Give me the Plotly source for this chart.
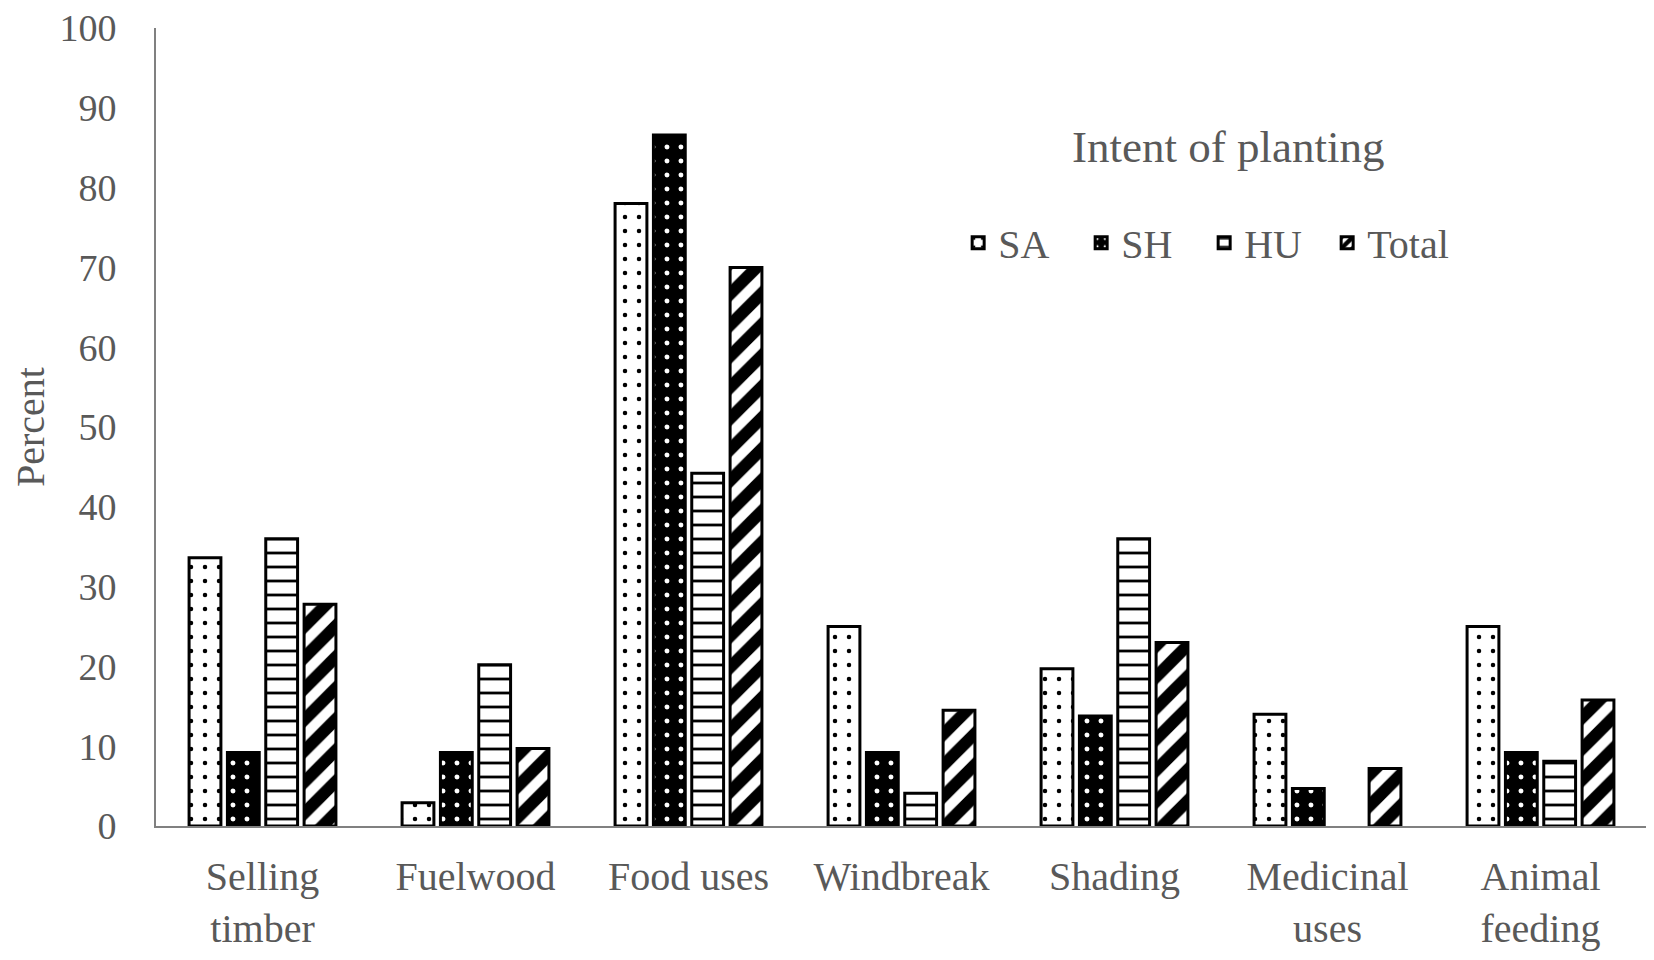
import plotly.graph_objects as go

# categories on the x axis
categories = ["Selling<br>timber", "Fuelwood", "Food uses", "Windbreak",
              "Shading", "Medicinal<br>uses", "Animal<br>feeding"]

# percent values
sa = [33.6, 2.9, 78.0, 25.0, 19.7, 14.0, 25.0]
sh = [9.2, 9.2, 86.6, 9.2, 13.8, 4.7, 9.2]
hu = [36.0, 20.2, 44.2, 4.1, 36.0, None, 8.1]
total = [27.8, 9.7, 70.0, 14.5, 23.0, 7.2, 15.8]

FONT = "Liberation Serif"
GREY = "#595959"

fig = go.Figure()

fig.add_trace(go.Bar(
    name="SA", x=categories, y=sa,
    marker=dict(color="white", line=dict(color="black", width=3),
                pattern=dict(shape=".", fgcolor="black", bgcolor="white",
                             size=14, solidity=0.08, fgopacity=1)),
))
fig.add_trace(go.Bar(
    name="SH", x=categories, y=sh,
    marker=dict(color="black", line=dict(color="black", width=3),
                pattern=dict(shape=".", fgcolor="white", bgcolor="black",
                             size=14, solidity=0.1, fgopacity=1)),
))
fig.add_trace(go.Bar(
    name="HU", x=categories, y=hu,
    marker=dict(color="white", line=dict(color="black", width=3),
                pattern=dict(shape="-", fgcolor="black", bgcolor="white",
                             size=14, solidity=0.2, fgopacity=1)),
))
fig.add_trace(go.Bar(
    name="Total", x=categories, y=total,
    marker=dict(color="white", line=dict(color="black", width=3),
                pattern=dict(shape="/", fgcolor="black", bgcolor="white",
                             size=22, solidity=0.55, fgopacity=1)),
))

# page body adds an 8px offset, so the figure is a little smaller than the window
fig.update_layout(
    width=1646, height=952,
    margin=dict(l=148, r=7, t=20, b=134),
    paper_bgcolor="white", plot_bgcolor="white",
    font=dict(family=FONT, color=GREY, size=40),
    barmode="group", bargap=0.28, bargroupgap=0.17,
    showlegend=True,
    legend=dict(orientation="h", x=0.538, y=0.731, xanchor="left", yanchor="middle",
                font=dict(family=FONT, size=40, color=GREY),
                entrywidth=78, entrywidthmode="pixels",
                bgcolor="rgba(0,0,0,0)"),
    annotations=[dict(text="Intent of planting", xref="paper", yref="paper",
                      x=0.719, y=0.851, xanchor="center", yanchor="middle",
                      showarrow=False, font=dict(family=FONT, size=45, color=GREY))],
)

fig.update_xaxes(
    showline=True, linecolor="#808080", linewidth=2, automargin=False,
    ticks="", showgrid=False, tickfont=dict(size=40, color=GREY),
    ticklabelstandoff=14, ticklabeloverflow="allow",
)
fig.update_yaxes(
    range=[0, 100], dtick=10, showline=True, linecolor="#808080", linewidth=2,
    ticks="", showgrid=False, zeroline=False, automargin=False,
    tickfont=dict(size=38, color=GREY), ticklabelstandoff=30,
    ticklabeloverflow="allow",
    title=dict(text="Percent", font=dict(size=40, color=GREY), standoff=25),
)

fig.write_html("out.html")
